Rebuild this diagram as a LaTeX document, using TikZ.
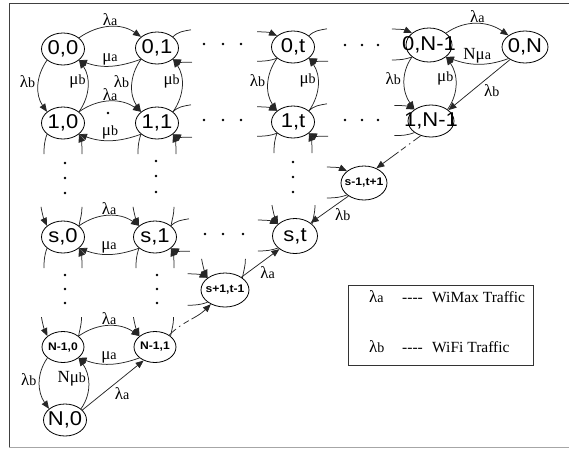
\documentclass[tikz,border=0pt]{standalone}
\usepackage{fontspec}
\usetikzlibrary{shapes.geometric,arrows.meta}
\newfontfamily\statefont[FakeStretch=1.1]{Liberation Sans}
\newfontfamily\labfont{Liberation Serif}
% rate symbol with a smaller trailing letter, e.g. \rate{λ}{a}
\newcommand\rate[2]{#1{\fontsize{14}{14}\selectfont #2}}
\newcommand\ctr[1]{\makebox[0pt]{#1}}
% free stub ends around a state (free end is a named coordinate)
\newcommand\stubRout[1]{\draw[ln] (#1.35) to[out=45,in=190] ++(18,7) coordinate (#1-ro);}
\newcommand\stubRin[1]{\path (#1.-35) ++(19,-3) coordinate (#1-ri); \draw[arr] (#1-ri) to[out=180,in=-25] (#1.-35);}
\newcommand\stubLin[1]{\path (#1.145) ++(-20,4) coordinate (#1-li); \draw[arr] (#1-li) to[out=0,in=155] (#1.145);}
\newcommand\stubLout[1]{\draw[ln] (#1.-145) to[out=-160,in=0] ++(-20,-3) coordinate (#1-lo);}
\newcommand\stubDout[1]{\draw[ln] (#1.-145) to[out=-110,in=90] ++(-3,-20) coordinate (#1-do);}
\newcommand\stubDin[1]{\path (#1.-35) ++(3,-20) coordinate (#1-di); \draw[arr] (#1-di) to[out=90,in=-70] (#1.-35);}
\newcommand\stubUin[1]{\path (#1.145) ++(-6,19) coordinate (#1-ui); \draw[arr] (#1-ui) to[out=-80,in=115] (#1.145);}
\newcommand\stubUout[1]{\draw[ln] (#1.35) to[out=80,in=-90] ++(3,19) coordinate (#1-uo);}
% pair of opposite transitions between horizontal / vertical neighbours
\newcommand\harc[4]{%
  \draw[arr] (#1.35) to[out=35,in=145] node[lab,above,inner sep=0.5pt] {#3} (#2.145);
  \draw[arr] (#2.-145) to[out=-160,in=-20] node[lab,above,inner sep=0.5pt] {#4} (#1.-35);}
\newcommand\varc[4]{%
  \draw[arr] (#1.-145) to[out=-125,in=125] node[lab,left,pos=0.42,inner sep=3pt] {#3} (#2.145);
  \draw[arr] (#2.35) to[out=55,in=-55] node[lab,left,pos=0.58,inner sep=1.5pt] {#4} (#1.-35);}
\begin{document}
\begin{tikzpicture}[x=1pt,y=1pt,
  st/.style={ellipse,draw,line width=0.8pt,minimum width=43pt,minimum height=32pt,
    inner sep=0pt,font=\statefont\fontsize{20}{20}\selectfont},
  stb/.style={st,minimum width=46pt,minimum height=34pt,
    font=\statefont\bfseries\fontsize{11}{11}\selectfont},
  ln/.style={line width=0.75pt,draw=black!85},
  arr/.style={ln,-{Triangle[length=8pt,width=6.5pt]}},
  lab/.style={font=\labfont\fontsize{17}{17}\selectfont,inner sep=1.5pt},
  dotc/.style={ln,dash pattern=on 9pt off 4pt on 1.5pt off 4pt on 6pt off 3pt on 40pt,
    -{Triangle[length=8pt,width=6.5pt]}},
  keyfont/.style={font=\labfont\fontsize{15.5}{15.5}\selectfont,inner sep=0pt,anchor=west},
]
\useasboundingbox (0,0) rectangle (569,-448);
% frame
\draw[line width=0.8pt,black!75] (575,-3) -- (9,-3) -- (9,-447);
\draw[line width=1pt,black!35] (9,-447) -- (575,-447);

% states
\node[st] (n00) at (63,-49) {\ctr{0,0}};
\node[st] (n01) at (157,-48) {\ctr{0,1}};
\node[st] (n0t) at (293,-47) {\ctr{0,t}};
\node[st,minimum width=46pt,minimum height=34pt] (n0a) at (429,-45) {\ctr{0,N-1}};
\node[st,minimum width=46pt] (n0N) at (525,-47) {\ctr{0,N}};
\node[st] (n10) at (63,-123) {\ctr{1,0}};
\node[st] (n11) at (157,-123) {\ctr{1,1}};
\node[st] (n1t) at (293,-122) {\ctr{1,t}};
\node[st,minimum width=46pt] (n1a) at (431,-121) {\ctr{1,N-1}};
\node[stb] (nsm) at (364,-183) {\ctr{s-1,t+1}};
\node[st] (ns0) at (63,-237) {\ctr{s,0}};
\node[st] (ns1) at (155,-237) {\ctr{s,1}};
\node[st,minimum width=45pt,minimum height=35pt] (nst) at (295,-236) {\ctr{s,t}};
\node[stb,minimum width=48pt] (nsp) at (225,-290) {\ctr{s+1,t-1}};
\node[stb,minimum width=42pt,minimum height=31pt] (nN10) at (63,-347) {\ctr{N-1,0}};
\node[stb,minimum width=42pt,minimum height=31pt] (nN11) at (155,-347) {\ctr{N-1,1}};
\node[st] (nN0) at (65,-420) {\ctr{N,0}};

% transitions between neighbours
\harc{n00}{n01}{\rate{λ}{a}}{\rate{μ}{a}}
\harc{n10}{n11}{\rate{λ}{a}}{\rate{μ}{b}}
\harc{ns0}{ns1}{\rate{λ}{a}}{\rate{μ}{a}}
\harc{nN10}{nN11}{\rate{λ}{a}}{\rate{μ}{a}}
\harc{n0a}{n0N}{\rate{λ}{a}}{\rate{Nμ}{a}}
\varc{n00}{n10}{\rate{λ}{b}}{\rate{μ}{b}}
\varc{n01}{n11}{\rate{λ}{b}}{\rate{μ}{b}}
\varc{n0t}{n1t}{\rate{λ}{b}}{\rate{μ}{b}}
\varc{n0a}{n1a}{\rate{λ}{b}}{\rate{μ}{b}}
\varc{nN10}{nN0}{\rate{λ}{b}}{\rate{Nμ}{b}}

% diagonal transitions
\draw[arr] (n0N.-140) -- node[lab,pos=0.45,below right] {\rate{λ}{b}} (n1a.32);
\draw[arr] (nsm.-140) -- node[lab,pos=0.4,below right] {\rate{λ}{b}} (nst.40);
\draw[arr] (nsp.38) -- node[lab,pos=0.45,below right] {\rate{λ}{a}} (nst.-140);
\draw[arr] (nN0.30) -- node[lab,pos=0.5,below right] {\rate{λ}{a}} (nN11.-130);
\draw[dotc] (n1a.-125) -- (nsm.50);
\draw[dotc] (nN11.40) to[out=45,in=-135] (nsp.-135);

% open transitions to states not drawn
\stubRout{n01}\stubRin{n01}
\stubLin{n0t}\stubLout{n0t}\stubRout{n0t}\stubRin{n0t}
\stubLin{n0a}\stubLout{n0a}
\stubDout{n10}\stubDin{n10}
\stubRout{n11}\stubRin{n11}\stubDout{n11}\stubDin{n11}
\stubLin{n1t}\stubLout{n1t}\stubRout{n1t}\stubRin{n1t}\stubDout{n1t}\stubDin{n1t}
\stubLin{n1a}\stubLout{n1a}
\stubLin{nsm}\stubLout{nsm}
\stubUin{ns0}\stubUout{ns0}\stubDout{ns0}\stubDin{ns0}
\stubUin{ns1}\stubUout{ns1}\stubRout{ns1}\stubRin{ns1}\stubDout{ns1}\stubDin{ns1}
\stubUin{nst}\stubUout{nst}\stubLin{nst}\stubLout{nst}
\stubUin{nsp}\stubUout{nsp}\stubLin{nsp}\stubLout{nsp}
\stubUin{nN10}\stubUout{nN10}
\stubUin{nN11}\stubUout{nN11}

% ellipsis dots
\foreach \x/\y in {204/44,223/44,241/44,345/45,362/45,378/45,
                   204/120,223/120,241/120,345/120,362/120,378/120,
                   205/234,223/234,243/234,
                   65/163,65/178,65/193,156/161,156/176,156/192,293/162,293/177,293/192,
                   65/275,65/289,65/303,157/275,157/289,157/303,108/113}
  \fill (\x,-\y) circle (1.4pt);

% key
\node[draw,line width=0.8pt,black!80,minimum width=185pt,minimum height=80pt,inner sep=0pt] (key) at (440.5,-325) {};
\node[keyfont] (keya) at (369,-297) {\makebox[33pt][l]{\rate{\fontsize{17}{17}\selectfont λ}{a}}\makebox[30pt][l]{-{}-{}-{}-}WiMax Traffic};
\node[keyfont] (keyb) at (369,-347) {\makebox[33pt][l]{\rate{\fontsize{17}{17}\selectfont λ}{b}}\makebox[30pt][l]{-{}-{}-{}-}WiFi Traffic};
\end{tikzpicture}
\end{document}
